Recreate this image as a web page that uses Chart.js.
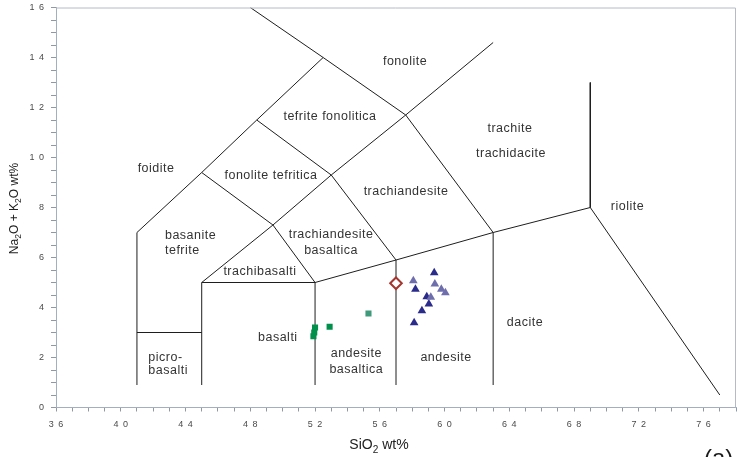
<!DOCTYPE html>
<html>
<head>
<meta charset="utf-8">
<title>TAS</title>
<script src="https://cdn.jsdelivr.net/npm/chart.js@4.4.1/dist/chart.umd.min.js"></script>
<style>
  html, body { margin: 0; padding: 0; background: #ffffff; }
  canvas { display: block; }
</style>
</head>
<body>
<canvas id="tas" width="737" height="457"></canvas>
<script>
// Axis ranges (SiO2 wt%, Na2O + K2O wt%)
const silicaRange = [36, 78];
const alkaliRange = [0, 16];

// TAS field boundaries, each a polyline of [SiO2, Na2O+K2O] vertices
const foiditeEdge      = [[41, 0.9], [41, 7], [45, 9.4], [48.4, 11.5], [52.5, 14]];
const picrobasaltTop   = [[41, 3], [45, 3]];
const basaniteEdge     = [[45, 0.9], [45, 5], [49.4, 7.3], [53, 9.3], [57.6, 11.7], [63, 14.6]];
const subalkalineTop   = [[45, 5], [52, 5], [57, 5.9], [63, 7], [69, 8]];
const basaltEdge       = [[52, 0.9], [52, 5]];
const andesiteEdge     = [[57, 0.9], [57, 5.9]];
const daciteEdge       = [[63, 0.9], [63, 7]];
const trachybasaltTop  = [[45, 9.4], [49.4, 7.3], [52, 5]];
const trachyandTop     = [[48.4, 11.5], [53, 9.3], [57, 5.9]];
const phonoliteEdge    = [[48, 16], [52.5, 14], [57.6, 11.7], [63, 7]];
const rhyoliteEdge     = [[69, 13], [69, 8], [77, 0.5]];
const fieldBoundaries = [foiditeEdge, picrobasaltTop, basaniteEdge, subalkalineTop, basaltEdge,
  andesiteEdge, daciteEdge, trachybasaltTop, trachyandTop, phonoliteEdge, rhyoliteEdge];

// Samples
const basaltSamples       = [[52.0, 3.2], [51.95, 3.0], [51.9, 2.85], [52.9, 3.23]];
const basaltSamplesPale   = [[55.3, 3.76]];
const andesiteSamples     = [[59.36, 5.39], [58.2, 4.73], [58.9, 4.43], [59.03, 4.14], [58.6, 3.87], [58.12, 3.39]];
const andesiteSamplesPale = [[58.07, 5.07], [59.4, 4.94], [59.8, 4.73], [60.05, 4.59], [59.15, 4.41]];
const diamondSample       = [[57.0, 4.97]];

// Field names and their anchors in data units
const fieldNames = ['fonolite', 'tefrite fonolitica', 'fonolite tefritica', 'foidite',
  'basanite', 'tefrite', 'trachiandesite', 'basaltica', 'trachibasalti', 'trachiandesite',
  'trachite', 'trachidacite', 'riolite', 'basalti', 'picro-', 'basalti',
  'andesite', 'basaltica', 'andesite', 'dacite'];
const fieldAnchors = [[57.56, 13.82], [52.92, 11.62], [49.28, 9.26], [42.18, 9.54],
  [42.73, 6.86], [42.73, 6.26], [52.99, 6.9], [52.99, 6.26], [48.6, 5.43], [57.62, 8.62],
  [64.04, 11.14], [64.1, 10.14], [71.3, 8.03], [49.7, 2.81], [41.7, 1.99], [41.7, 1.47],
  [54.55, 2.14], [54.55, 1.5], [60.09, 1.98], [64.97, 3.38]];
const fieldAlign = ['center', 'center', 'center', 'center', 'left', 'left', 'center', 'center',
  'center', 'center', 'center', 'center', 'center', 'center', 'left', 'left',
  'center', 'center', 'center', 'center'];

const FONT = '"Liberation Sans", Arial, Helvetica, sans-serif';
// tick labels are printed with their digits spread apart
const spaced = v => String(v).split('').join('\u2002');
const toXY = pts => pts.map(([x, y]) => ({ x, y }));

const datasets = [];
fieldBoundaries.forEach(line => datasets.push({
  data: toXY(line), showLine: true, borderColor: '#1e1e1e', borderWidth: 1,
  pointRadius: 0, fill: false, tension: 0, order: 10
}));
datasets.push(
  { data: toXY(basaltSamples), pointStyle: 'rect', pointRadius: 4.3, backgroundColor: '#00904c', borderColor: '#00904c', borderWidth: 0, order: 1 },
  { data: toXY(basaltSamplesPale), pointStyle: 'rect', pointRadius: 4.3, backgroundColor: '#3f9a7c', borderColor: '#3f9a7c', borderWidth: 0, order: 1 },
  { data: toXY(andesiteSamples), pointStyle: 'triangle', pointRadius: 5, backgroundColor: '#2b2b8c', borderColor: '#2b2b8c', borderWidth: 0, order: 1 },
  { data: toXY(andesiteSamplesPale), pointStyle: 'triangle', pointRadius: 5, backgroundColor: '#6e6eac', borderColor: '#6e6eac', borderWidth: 0, order: 0 },
  { data: toXY(diamondSample), pointStyle: 'rectRot', pointRadius: 5.8, backgroundColor: '#ffffff', borderColor: '#a4352f', borderWidth: 2, order: 0 }
);

// Draws a run of [text, isSubscript] parts starting at x, baseline y
function drawRuns(ctx, runs, x, y, size) {
  let cx = x;
  runs.forEach(([t, sub]) => {
    ctx.font = (sub ? size * 0.72 : size) + 'px ' + FONT;
    ctx.fillText(t, cx, sub ? y + size * 0.3 : y);
    cx += ctx.measureText(t).width;
  });
}
function runsWidth(ctx, runs, size) {
  let w = 0;
  runs.forEach(([t, sub]) => {
    ctx.font = (sub ? size * 0.72 : size) + 'px ' + FONT;
    w += ctx.measureText(t).width;
  });
  return w;
}

const decorations = {
  id: 'decorations',
  afterDraw(chart) {
    const { ctx, chartArea: a, scales: { x, y } } = chart;
    ctx.save();
    // frame on the top and right
    ctx.strokeStyle = '#b4bbc6';
    ctx.lineWidth = 1;
    ctx.beginPath();
    ctx.moveTo(a.left, a.top + 0.5);
    ctx.lineTo(a.right - 0.5, a.top + 0.5);
    ctx.lineTo(a.right - 0.5, a.bottom);
    ctx.stroke();

    // field names
    ctx.fillStyle = '#333333';
    ctx.font = '12.5px ' + FONT;
    ctx.letterSpacing = '0.5px';
    ctx.textBaseline = 'middle';
    fieldNames.forEach((name, i) => {
      ctx.textAlign = fieldAlign[i];
      ctx.fillText(name, x.getPixelForValue(fieldAnchors[i][0]), y.getPixelForValue(fieldAnchors[i][1]));
    });
    ctx.letterSpacing = '0px';

    // axis titles
    ctx.fillStyle = '#222222';
    ctx.textAlign = 'left';
    ctx.textBaseline = 'alphabetic';
    const xRuns = [['SiO', 0], ['2', 1], [' wt%', 0]];
    const xw = runsWidth(ctx, xRuns, 14);
    drawRuns(ctx, xRuns, 379 - xw / 2, 449, 14);

    const yRuns = [['Na', 0], ['2', 1], ['O + K', 0], ['2', 1], ['O wt%', 0]];
    const yw = runsWidth(ctx, yRuns, 12);
    ctx.save();
    ctx.translate(17.5, 208.5);
    ctx.rotate(-Math.PI / 2);
    drawRuns(ctx, yRuns, -yw / 2, 0, 12);
    ctx.restore();

    // panel tag
    ctx.font = '24px ' + FONT;
    ctx.fillStyle = '#1a1a1a';
    ctx.fillText('(a)', 704, 466);
    ctx.restore();
  }
};

new Chart(document.getElementById('tas'), {
  type: 'scatter',
  data: { datasets },
  options: {
    responsive: false,
    animation: false,
    devicePixelRatio: 1,
    layout: { autoPadding: false, padding: { top: 7.5, right: 1, left: 0, bottom: 0 } },
    plugins: { legend: { display: false }, tooltip: { enabled: false } },
    scales: {
      x: {
        type: 'linear', min: silicaRange[0], max: silicaRange[1],
        ticks: {
          stepSize: 1, autoSkip: false, maxRotation: 0, padding: 8,
          color: '#4a4a4a', font: { family: FONT, size: 9 },
          callback: v => (v % 4 === 0 ? spaced(v) : '')
        },
        grid: { drawOnChartArea: false, drawTicks: true, tickLength: 4, tickColor: '#8f99a6' },
        border: { color: '#a3afbf', width: 1 },
        afterFit: s => { s.height = 49.5; s.paddingLeft = 0; s.paddingRight = 0; }
      },
      y: {
        type: 'linear', min: alkaliRange[0], max: alkaliRange[1],
        ticks: {
          stepSize: 0.5, autoSkip: false, padding: 7,
          color: '#4a4a4a', font: { family: FONT, size: 9 },
          callback: v => (Number.isInteger(v) && v % 2 === 0 ? spaced(v) : '')
        },
        grid: { drawOnChartArea: false, drawTicks: true, tickLength: 5, tickColor: '#8f99a6' },
        border: { color: '#a3afbf', width: 1 },
        afterFit: s => { s.width = 56; s.paddingTop = 0; s.paddingBottom = 0; }
      }
    }
  },
  plugins: [decorations]
});
</script>
</body>
</html>
